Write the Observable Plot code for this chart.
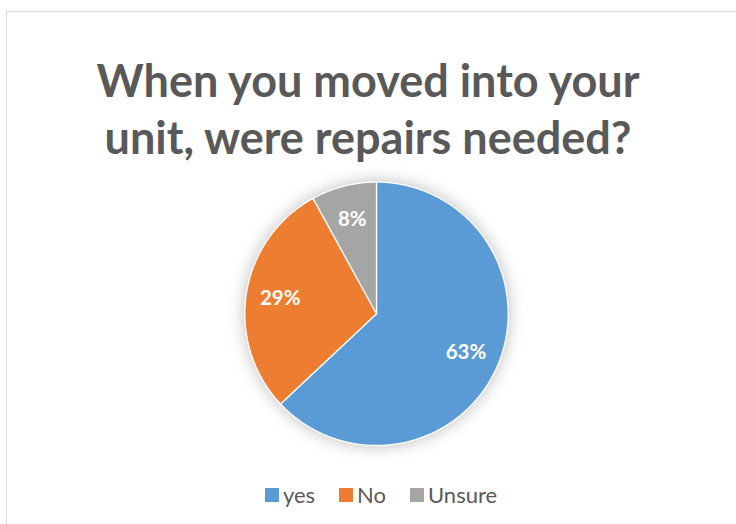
<!DOCTYPE html>
<html>
<head>
<meta charset="utf-8">
<script src="https://cdn.jsdelivr.net/npm/d3@7"></script>
<script src="https://cdn.jsdelivr.net/npm/@observablehq/plot@0.6"></script>
<style>
  html, body { margin: 0; padding: 0; background: #fff; width: 736px; height: 524px; overflow: hidden; }
  #page { position: relative; width: 736px; height: 524px; font-family: Lato, "Open Sans", sans-serif; }
  #frame { position: absolute; left: 6px; top: 11px; width: 760px; height: 560px; border: 1px solid #d9d9d9; box-sizing: border-box; }
  #title { position: absolute; left: 0; top: 52px; width: 736px; text-align: center; font-size: 45px; font-weight: bold; line-height: 57px; color: #595959; }
  #chart { position: absolute; left: 0; top: 170px; }
  #chart g[aria-label="line"] { filter: drop-shadow(0 0 8px rgba(0,0,0,0.26)); }
  #legend { position: absolute; left: 0; top: 484px; width: 762px; display: flex; justify-content: center; font-size: 22px; line-height: 22px; color: #595959; }
  .item { display: flex; align-items: center; margin: 0 12px; }
  .sw { width: 14px; height: 14px; margin-right: 4px; }
</style>
</head>
<body>
<div id="page">
  <div id="frame"></div>
  <div id="title">When you moved into your<br>unit, were repairs needed?</div>
  <div id="chart"></div>
  <div id="legend"></div>
</div>
<script>
const categories = ["yes", "No", "Unsure"];
const values = [63, 29, 8];
const colors = ["#5B9BD5", "#ED7D31", "#A5A5A5"];

const total = d3.sum(values);
const slices = [];
const labels = [];
let acc = 0;
categories.forEach((c, i) => {
  const a0 = acc / total * 2 * Math.PI;
  acc += values[i];
  const a1 = acc / total * 2 * Math.PI;
  slices.push({cat: c, x: 0, y: 0});
  const n = Math.max(2, Math.ceil((a1 - a0) / (Math.PI / 360)));
  for (let k = 0; k <= n; k++) {
    const a = a0 + (a1 - a0) * k / n;
    slices.push({cat: c, x: Math.sin(a), y: Math.cos(a)});
  }
  const am = (a0 + a1) / 2;
  labels.push({cat: c, text: Math.round(values[i] / total * 100) + "%", x: 0.74 * Math.sin(am), y: 0.74 * Math.cos(am)});
});

const cx = 376, cy = 143.3, r = 131.7;
const plot = Plot.plot({
  width: 736,
  height: 290,
  margin: 0,
  style: {background: "transparent", overflow: "visible"},
  x: {domain: [-1, 1], range: [cx - r, cx + r], axis: null},
  y: {domain: [-1, 1], range: [cy + r, cy - r], axis: null},
  color: {domain: categories, range: colors},
  marks: [
    Plot.line(slices, {x: "x", y: "y", z: "cat", fill: "cat", stroke: "#fff", strokeWidth: 1.3, curve: "linear-closed"}),
    Plot.text(labels, {x: "x", y: "y", text: "text", fill: "#fff", fontSize: 20.5, fontWeight: "bold", fontFamily: "Lato, 'Open Sans', sans-serif"})
  ]
});
document.getElementById("chart").appendChild(plot);

const legend = document.getElementById("legend");
categories.forEach((c, i) => {
  const item = document.createElement("div");
  item.className = "item";
  const sw = document.createElement("span");
  sw.className = "sw";
  sw.style.background = colors[i];
  const t = document.createElement("span");
  t.textContent = c;
  item.appendChild(sw);
  item.appendChild(t);
  legend.appendChild(item);
});
</script>
</body>
</html>
